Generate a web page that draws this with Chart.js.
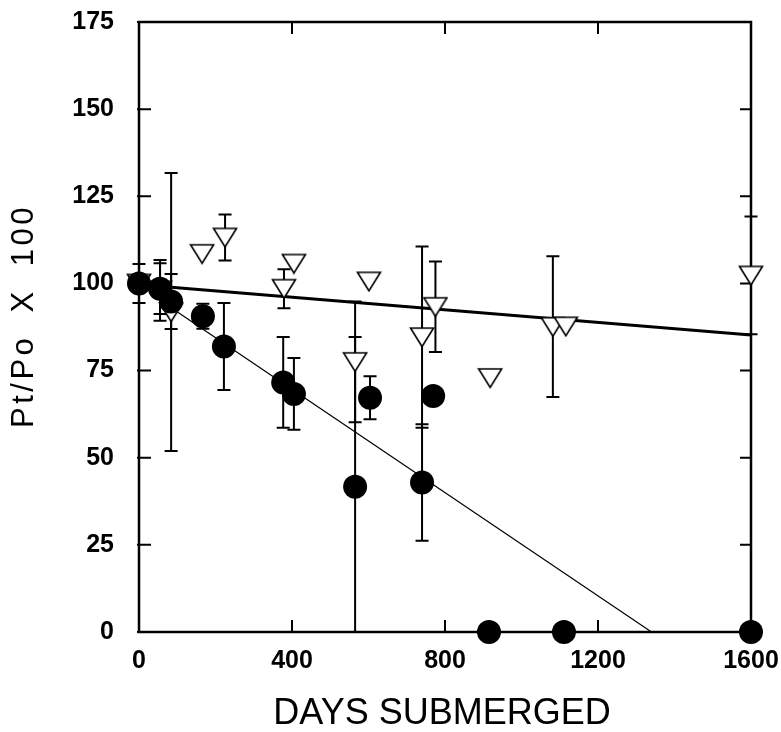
<!DOCTYPE html>
<html>
<head>
<meta charset="utf-8">
<script src="https://cdn.jsdelivr.net/npm/chart.js@4.4.0/dist/chart.umd.min.js"></script>
<style>
  html, body { margin: 0; padding: 0; background: #fff; }
  canvas { display: block; }
</style>
</head>
<body>
<canvas id="chart" width="781" height="732"></canvas>
<script>
// filled circles (days submerged, Pt/Po x 100, +/- error)
const circleDays = [0, 55, 84, 167, 222, 377, 405, 565, 604, 740, 769, 915, 1111, 1600];
const circleVals = [100, 98.5, 94.8, 90.6, 81.9, 71.6, 68.3, 41.7, 67.2, 42.9, 67.7, 0, 0, 0];
const circleErr  = [5.6, 7.3, 7.9, 3.6, 12.5, 13, 10.3, 42.9, 6.2, 16.7, 0, 0, 0, 0];

// open triangles
const triDays = [0, 55, 84, 165, 225, 379, 405, 565, 601, 740, 775, 918, 1082, 1116, 1600];
const triVals = [100, 98, 91.8, 108.5, 113.2, 98.5, 105.7, 77.5, 100.6, 84.6, 93.3, 72.9, 87.6, 87.7, 102.3];
const triErr  = [0, 8.7, 39.9, 0, 6.6, 5.6, 0, 17.3, 0, 26, 13, 0, 20.2, 0, 16.9];

// fitted lines
const fitTriDays = [84, 1600];
const fitTriVals = [98.9, 85.2];
const fitCircDays = [84, 1340];
const fitCircVals = [93, 0];

const xTicks = [0, 400, 800, 1200, 1600];
const yTicks = [0, 25, 50, 75, 100, 125, 150, 175];

function points(xs, ys) {
  return xs.map((x, i) => ({ x: x, y: ys[i] }));
}

// down-pointing open triangle as a point image
function triangleDown() {
  const c = document.createElement('canvas');
  c.width = 26; c.height = 22;
  const g = c.getContext('2d');
  g.beginPath();
  g.moveTo(1.5, 2);
  g.lineTo(24.5, 2);
  g.lineTo(13, 20.5);
  g.closePath();
  g.fillStyle = '#fff';
  g.fill();
  g.lineWidth = 1.6;
  g.strokeStyle = '#000';
  g.stroke();
  return c;
}

const errorBars = {
  id: 'errorBars',
  beforeDatasetsDraw(chart) {
    const ctx = chart.ctx, sx = chart.scales.x, sy = chart.scales.y;
    ctx.save();
    ctx.strokeStyle = '#000';
    ctx.lineWidth = 2;
    function draw(days, vals, errs) {
      days.forEach((d, i) => {
        if (!errs[i]) return;
        const px = sx.getPixelForValue(d);
        const low = vals[i] - errs[i];
        const pLo = sy.getPixelForValue(Math.max(low, 0));
        const pHi = sy.getPixelForValue(vals[i] + errs[i]);
        ctx.beginPath();
        ctx.moveTo(px, pLo);
        ctx.lineTo(px, pHi);
        ctx.moveTo(px - 6.5, pHi);
        ctx.lineTo(px + 6.5, pHi);
        if (low > 0) {
          ctx.moveTo(px - 6.5, pLo);
          ctx.lineTo(px + 6.5, pLo);
        }
        ctx.stroke();
      });
    }
    draw(triDays, triVals, triErr);
    draw(circleDays, circleVals, circleErr);
    ctx.restore();
  }
};

// box round the plot with inward ticks
const frame = {
  id: 'frame',
  beforeDatasetsDraw(chart) {
    const ctx = chart.ctx, a = chart.chartArea;
    const sx = chart.scales.x, sy = chart.scales.y;
    ctx.save();
    ctx.strokeStyle = '#000';
    ctx.lineWidth = 2.5;
    ctx.strokeRect(a.left, a.top, a.right - a.left, a.bottom - a.top);
    ctx.lineWidth = 2;
    ctx.beginPath();
    xTicks.forEach(v => {
      const px = sx.getPixelForValue(v);
      ctx.moveTo(px, a.bottom); ctx.lineTo(px, a.bottom - 12);
      ctx.moveTo(px, a.top); ctx.lineTo(px, a.top + 12);
    });
    yTicks.forEach(v => {
      const py = sy.getPixelForValue(v);
      ctx.moveTo(a.left - 2, py); ctx.lineTo(a.left + 12, py);
      ctx.moveTo(a.right, py); ctx.lineTo(a.right - 11, py);
    });
    ctx.stroke();
    ctx.restore();
  }
};

const axisTitles = {
  id: 'axisTitles',
  afterDraw(chart) {
    const ctx = chart.ctx;
    ctx.save();
    ctx.fillStyle = '#000';
    ctx.textAlign = 'center';
    ctx.textBaseline = 'middle';
    ctx.font = '36px "Liberation Sans", Arial, sans-serif';
    ctx.fillText('DAYS SUBMERGED', 442, 714);
    ctx.translate(24, 316);
    ctx.rotate(-Math.PI / 2);
    ctx.font = '31px "Liberation Sans", Arial, sans-serif';
    ctx.letterSpacing = '3.5px';
    ctx.wordSpacing = '10px';
    ctx.fillText('Pt/Po X 100', 0, 0);
    ctx.restore();
  }
};

window.addEventListener('load', function() {
  const tickFont = { family: '"Liberation Sans", Arial, sans-serif', size: 25, weight: 'bold' };
  const ctx = document.getElementById('chart').getContext('2d');
  new Chart(ctx, {
    type: 'scatter',
    data: {
      datasets: [
        {
          label: 'circles',
          data: points(circleDays, circleVals),
          pointStyle: 'circle',
          pointRadius: 12,
          backgroundColor: '#000',
          borderWidth: 0,
          clip: false
        },
        {
          label: 'triangles',
          data: points(triDays, triVals),
          pointStyle: triangleDown(),
          pointRadius: 12,
          clip: false
        },
        {
          type: 'line',
          label: 'fit triangles',
          data: points(fitTriDays, fitTriVals),
          borderColor: '#000',
          borderWidth: 3,
          pointRadius: 0,
          fill: false
        },
        {
          type: 'line',
          label: 'fit circles',
          data: points(fitCircDays, fitCircVals),
          borderColor: '#000',
          borderWidth: 1.2,
          pointRadius: 0,
          fill: false
        }
      ]
    },
    options: {
      responsive: false,
      animation: false,
      events: [],
      layout: { padding: { left: 0, right: 30, top: 22, bottom: 0 } },
      plugins: { legend: { display: false }, tooltip: { enabled: false } },
      scales: {
        x: {
          type: 'linear',
          min: 0,
          max: 1600,
          grid: { display: false },
          border: { display: false },
          ticks: {
            stepSize: 400, padding: 6, color: '#000', font: tickFont, maxRotation: 0,
            callback: v => String(v)
          },
          afterFit: function(s) { s.height = 100; s.paddingLeft = 0; s.paddingRight = 0; }
        },
        y: {
          min: 0,
          max: 175,
          grid: { display: false },
          border: { display: false },
          ticks: { stepSize: 25, padding: 17, color: '#000', font: tickFont, callback: v => String(v) },
          afterFit: function(s) { s.width = 139; s.paddingTop = 0; s.paddingBottom = 0; }
        }
      }
    },
    plugins: [errorBars, frame, axisTitles]
  });
});
</script>
</body>
</html>
